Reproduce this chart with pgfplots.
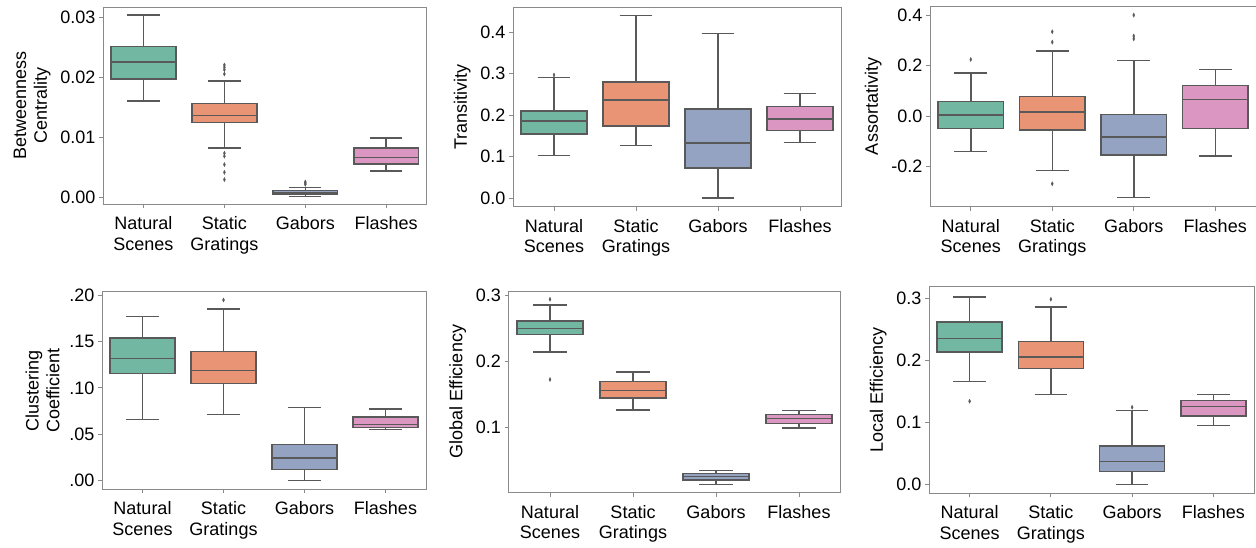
\documentclass[border=0pt]{standalone}
\usepackage{fontspec}
\setmainfont{Liberation Sans}
\usepackage{pgfplots}
\pgfplotsset{compat=1.18}
\usepgfplotslibrary{statistics}
\definecolor{cA}{HTML}{71B7A1}
\definecolor{cB}{HTML}{E99575}
\definecolor{cC}{HTML}{95A3C3}
\definecolor{cD}{HTML}{DB96C1}
\definecolor{lgray}{HTML}{595959}
\definecolor{spinegray}{HTML}{8A8A8A}
\pgfplotsset{
  common/.style={
    scale only axis, anchor=south west,
    xmin=-0.5, xmax=3.5,
    xtick={0,1,2,3},
    xticklabels={{Natural\\Scenes},{Static\\Gratings},Gabors,Flashes},
    xticklabel style={align=center, font=\fontsize{18}{20.7}\selectfont, yshift=-5pt},
    yticklabel style={font=\fontsize{18}{20.7}\selectfont},
    ylabel style={align=center, font=\fontsize{18}{20.7}\selectfont, yshift=3pt},
    tick align=outside, xtick pos=bottom, ytick pos=left,
    axis line style={spinegray, line width=0.9pt},
    major tick style={spinegray, line width=0.9pt},
    major tick length=4pt,
    clip=false,
  },
  bp/.style={
    draw=lgray, line width=1.5pt,
    mark=diamond*, mark size=2.1pt,
    mark options={draw=lgray, fill=lgray, line width=0.3pt, xscale=0.65},
    boxplot/draw direction=y,
    boxplot/box extend=0.8, boxplot/whisker extend=0.4,
    boxplot/every whisker/.style={draw=lgray, line width=1.5pt},
    boxplot/every median/.style={draw=lgray, line width=1.5pt},
    boxplot/every box/.style={draw=lgray, line width=1.5pt},
  },
}
\begin{document}
\begin{tikzpicture}
\useasboundingbox (0,0) rectangle (1256pt,548pt);

% ---------- Panel 1: Betweenness Centrality (values in units of 0.01)
\begin{axis}[common, at={(103pt,343.7pt)}, width=323.7pt, height=197.3pt,
  ymin=-0.122, ymax=3.167,
  ytick={0,1,2,3}, yticklabels={0.00,0.01,0.02,0.03},
  ylabel={Betweenness\\Centrality}]
\addplot[bp, fill=cA, boxplot prepared={draw position=0, lower whisker=1.60, lower quartile=1.97, median=2.25, upper quartile=2.505, upper whisker=3.03}] coordinates {};
\addplot[bp, fill=cB, boxplot prepared={draw position=1, lower whisker=0.82, lower quartile=1.245, median=1.36, upper quartile=1.555, upper whisker=1.93}]
  table[row sep=\\, y index=0] {d\\ 2.20\\ 2.16\\ 2.12\\ 2.05\\ 0.73\\ 0.68\\ 0.54\\ 0.41\\ 0.29\\};
\addplot[bp, fill=cC, boxplot prepared={draw position=2, lower whisker=0.01, lower quartile=0.045, median=0.07, upper quartile=0.105, upper whisker=0.155}]
  table[row sep=\\, y index=0] {d\\ 0.21\\ 0.23\\ 0.25\\};
\addplot[bp, fill=cD, boxplot prepared={draw position=3, lower whisker=0.43, lower quartile=0.55, median=0.66, upper quartile=0.82, upper whisker=0.98}] coordinates {};
\end{axis}

% ---------- Panel 2: Transitivity
\begin{axis}[common, at={(513pt,341.3pt)}, width=328pt, height=199.7pt,
  ymin=-0.021, ymax=0.461,
  ytick={0,0.1,0.2,0.3,0.4}, yticklabels={0.0,0.1,0.2,0.3,0.4},
  ylabel={Transitivity}]
\addplot[bp, fill=cA, boxplot prepared={draw position=0, lower whisker=0.102, lower quartile=0.155, median=0.1863, upper quartile=0.2104, upper whisker=0.2906}]
  table[row sep=\\, y index=0] {d\\ 0.297\\};
\addplot[bp, fill=cB, boxplot prepared={draw position=1, lower whisker=0.1268, lower quartile=0.174, median=0.2366, upper quartile=0.280, upper whisker=0.440}] coordinates {};
\addplot[bp, fill=cC, boxplot prepared={draw position=2, lower whisker=0.0, lower quartile=0.0723, median=0.1325, upper quartile=0.2145, upper whisker=0.3967}] coordinates {};
\addplot[bp, fill=cD, boxplot prepared={draw position=3, lower whisker=0.134, lower quartile=0.163, median=0.191, upper quartile=0.2207, upper whisker=0.252}] coordinates {};
\end{axis}

% ---------- Panel 3: Assortativity
\begin{axis}[common, at={(930pt,341.3pt)}, width=326pt, height=200.4pt,
  ymin=-0.359, ymax=0.435,
  ytick={-0.2,0,0.2,0.4}, yticklabels={-0.2,0.0,0.2,0.4},
  ylabel={Assortativity}]
\addplot[bp, fill=cA, boxplot prepared={draw position=0, lower whisker=-0.141, lower quartile=-0.049, median=0.004, upper quartile=0.058, upper whisker=0.171}]
  table[row sep=\\, y index=0] {d\\ 0.224\\};
\addplot[bp, fill=cB, boxplot prepared={draw position=1, lower whisker=-0.215, lower quartile=-0.056, median=0.017, upper quartile=0.078, upper whisker=0.257}]
  table[row sep=\\, y index=0] {d\\ 0.334\\ 0.293\\ -0.268\\};
\addplot[bp, fill=cC, boxplot prepared={draw position=2, lower whisker=-0.322, lower quartile=-0.154, median=-0.082, upper quartile=0.006, upper whisker=0.220}]
  table[row sep=\\, y index=0] {d\\ 0.400\\ 0.317\\ 0.306\\};
\addplot[bp, fill=cD, boxplot prepared={draw position=3, lower whisker=-0.159, lower quartile=-0.049, median=0.065, upper quartile=0.122, upper whisker=0.184}] coordinates {};
\end{axis}

% ---------- Panel 4: Clustering Coefficient
\begin{axis}[common, at={(102pt,58.7pt)}, width=324pt, height=197.6pt,
  ymin=-0.0093, ymax=0.2037,
  ytick={0,0.05,0.1,0.15,0.2}, yticklabels={.00,.05,.10,.15,.20},
  ylabel={Clustering\\Coefficient}]
\addplot[bp, fill=cA, boxplot prepared={draw position=0, lower whisker=0.066, lower quartile=0.1157, median=0.1315, upper quartile=0.154, upper whisker=0.1767}] coordinates {};
\addplot[bp, fill=cB, boxplot prepared={draw position=1, lower whisker=0.0711, lower quartile=0.1045, median=0.119, upper quartile=0.139, upper whisker=0.185}]
  table[row sep=\\, y index=0] {d\\ 0.1947\\};
\addplot[bp, fill=cC, boxplot prepared={draw position=2, lower whisker=0.0, lower quartile=0.0123, median=0.0245, upper quartile=0.0392, upper whisker=0.079}] coordinates {};
\addplot[bp, fill=cD, boxplot prepared={draw position=3, lower whisker=0.055, lower quartile=0.0575, median=0.0603, upper quartile=0.0686, upper whisker=0.077}] coordinates {};
\end{axis}

% ---------- Panel 5: Global Efficiency
\begin{axis}[common, at={(508.5pt,55.3pt)}, width=332pt, height=201.7pt,
  ymin=0.001, ymax=0.307,
  ytick={0.1,0.2,0.3}, yticklabels={0.1,0.2,0.3},
  ylabel={Global Efficiency}]
\addplot[bp, fill=cA, boxplot prepared={draw position=0, lower whisker=0.2145, lower quartile=0.2411, median=0.2502, upper quartile=0.2618, upper whisker=0.2858}]
  table[row sep=\\, y index=0] {d\\ 0.2945\\ 0.1728\\};
\addplot[bp, fill=cB, boxplot prepared={draw position=1, lower whisker=0.1266, lower quartile=0.1449, median=0.156, upper quartile=0.170, upper whisker=0.184}] coordinates {};
\addplot[bp, fill=cC, boxplot prepared={draw position=2, lower whisker=0.0136, lower quartile=0.0206, median=0.0252, upper quartile=0.0298, upper whisker=0.035}] coordinates {};
\addplot[bp, fill=cD, boxplot prepared={draw position=3, lower whisker=0.099, lower quartile=0.106, median=0.1137, upper quartile=0.1199, upper whisker=0.1255}] coordinates {};
\end{axis}

% ---------- Panel 6: Local Efficiency
\begin{axis}[common, at={(929pt,54.7pt)}, width=325pt, height=207pt,
  ymin=-0.0138, ymax=0.3195,
  ytick={0,0.1,0.2,0.3}, yticklabels={0.0,0.1,0.2,0.3},
  ylabel={Local Efficiency}]
\addplot[bp, fill=cA, boxplot prepared={draw position=0, lower whisker=0.1664, lower quartile=0.214, median=0.2352, upper quartile=0.262, upper whisker=0.3024}]
  table[row sep=\\, y index=0] {d\\ 0.1344\\};
\addplot[bp, fill=cB, boxplot prepared={draw position=1, lower whisker=0.1456, lower quartile=0.1872, median=0.2054, upper quartile=0.2304, upper whisker=0.2864}]
  table[row sep=\\, y index=0] {d\\ 0.2987\\};
\addplot[bp, fill=cC, boxplot prepared={draw position=2, lower whisker=0.0, lower quartile=0.0214, median=0.0374, upper quartile=0.0624, upper whisker=0.1195}]
  table[row sep=\\, y index=0] {d\\ 0.1248\\};
\addplot[bp, fill=cD, boxplot prepared={draw position=3, lower whisker=0.095, lower quartile=0.1104, median=0.1259, upper quartile=0.1355, upper whisker=0.1451}] coordinates {};
\end{axis}
\end{tikzpicture}
\end{document}
